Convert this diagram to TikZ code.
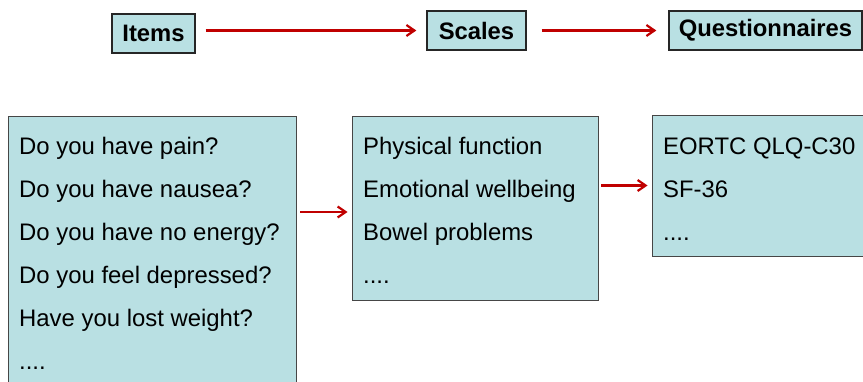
\documentclass[tikz,border=0pt]{standalone}
\usepackage{fontspec}
\setmainfont{Liberation Sans}
\usetikzlibrary{arrows.meta}
\definecolor{boxfill}{RGB}{185,224,227}
\definecolor{boxline}{RGB}{70,70,70}
\definecolor{arrred}{RGB}{192,0,0}
\begin{document}
\begin{tikzpicture}[x=1pt,y=-1pt,
  hdr/.style={draw=black!85, line width=1.3pt, fill=boxfill, inner sep=0pt,
    font=\fontsize{23.8}{28}\selectfont\bfseries},
  panel/.style={draw=boxline, line width=0.9pt, fill=boxfill, inner sep=0pt},
  txt/.style={anchor=base west, inner sep=0pt, font=\fontsize{23.9}{28}\selectfont},
  arr/.style={draw=arrred, line width=2.2pt, -{Straight Barb[length=8pt,width=11pt]}}]
\useasboundingbox (0,0) rectangle (863,381);
\clip (0,0) rectangle (863,381);
% header boxes
\node[hdr, minimum width=83pt, minimum height=39pt] (items) at (153.5,33.5) {Items};
\node[hdr, minimum width=99pt, minimum height=39pt] (scales) at (476.5,30.5) {Scales};
\node[hdr, minimum width=193pt, minimum height=39pt] (quest) at (765.5,30.5) {Questionnaires};
\draw[arr, shorten <=10pt, shorten >=10pt] (items.east |- scales.west) -- (scales.west);
\draw[arr, shorten <=15pt, shorten >=12pt] (scales.east) -- (quest.west);
% panels
\node[panel, minimum width=288pt, minimum height=279pt] (b1) at (152,255.5) {};
\node[panel, minimum width=246pt, minimum height=184pt] (b2) at (475,208) {};
\node[panel, minimum width=218pt, minimum height=141pt] (b3) at (761,185.5) {};
\coordinate (a1) at ([yshift=-4pt]b2.west);
\draw[arr, shorten <=4pt, shorten >=4pt] (b1.east |- a1) -- (a1);
\draw[arr, shorten <=3pt, shorten >=4pt] (b2.east |- b3.west) -- (b3.west);
% panel texts
\node[txt] (i1) at (19,154) {Do you have pain?};
\node[txt] (i2) at (19,197) {Do you have nausea?};
\node[txt] (i3) at (19,240) {Do you have no energy?};
\node[txt] (i4) at (19,283) {Do you feel depressed?};
\node[txt] (i5) at (19,326) {Have you lost weight?};
\node[txt] (i6) at (19,369) {....};
\node[txt] (s1) at (363,154) {Physical function};
\node[txt] (s2) at (363,197) {Emotional wellbeing};
\node[txt] (s3) at (363,240) {Bowel problems};
\node[txt] (s4) at (363,283) {....};
\node[txt] (q1) at (663,154) {EORTC QLQ-C30};
\node[txt] (q2) at (663,197) {SF-36};
\node[txt] (q3) at (663,240) {....};
\end{tikzpicture}
\end{document}
